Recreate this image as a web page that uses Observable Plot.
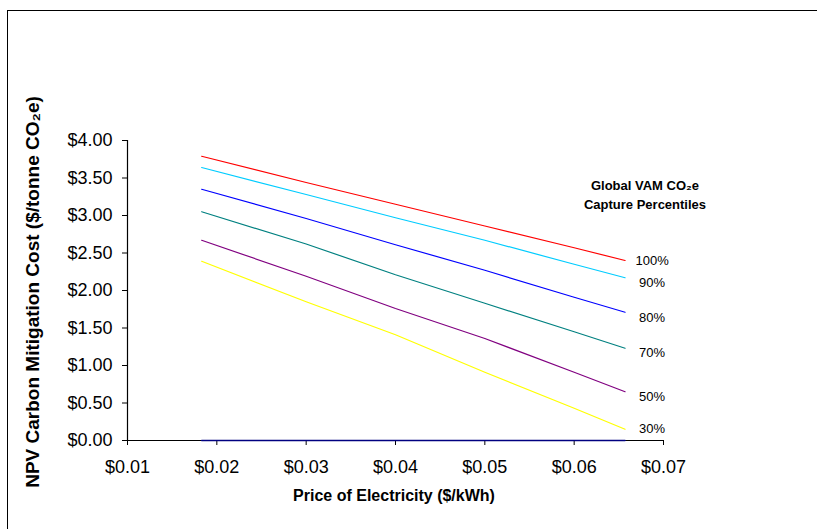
<!DOCTYPE html>
<html>
<head>
<meta charset="utf-8">
<script src="https://cdn.jsdelivr.net/npm/d3@7"></script>
<script src="https://cdn.jsdelivr.net/npm/@observablehq/plot@0.6"></script>
<style>
  html, body { margin: 0; padding: 0; background: #fff; }
  body { width: 817px; height: 529px; position: relative; overflow: hidden; font-family: "Liberation Sans", Arial, sans-serif; }
  #frame { position: absolute; left: 7px; top: 10px; width: 830px; height: 540px; border: 1.5px solid #000; box-sizing: border-box; pointer-events: none; }
  #chart { position: absolute; left: 0; top: 0; }
</style>
</head>
<body>
<div id="chart"></div>
<div id="frame"></div>
<script>
// Price of electricity ($/kWh)
const prices = [0.0183, 0.03, 0.04, 0.05, 0.06, 0.0657];
// NPV carbon mitigation cost ($/tonne CO2e) for each capture percentile
const percentiles = ["100%", "90%", "80%", "70%", "50%", "30%"];
const p100 = [3.79, 3.44, 3.15, 2.86, 2.57, 2.40];
const p90  = [3.64, 3.28, 2.97, 2.67, 2.35, 2.17];
const p80  = [3.35, 2.96, 2.61, 2.27, 1.91, 1.71];
const p70  = [3.05, 2.62, 2.21, 1.83, 1.45, 1.23];
const p50  = [2.67, 2.19, 1.76, 1.36, 0.91, 0.65];
const p30  = [2.39, 1.85, 1.41, 0.91, 0.43, 0.15];
const zeroSeries = [0, 0, 0, 0, 0, 0];
const seriesValues = [p100, p90, p80, p70, p50, p30];
const colors = ["#FF0000", "#00CCFF", "#0000FF", "#008080", "#800080", "#FFFF00"];
const xTicks = [0.01, 0.02, 0.03, 0.04, 0.05, 0.06, 0.07];
const yTicks = [0, 0.5, 1, 1.5, 2, 2.5, 3, 3.5, 4];
const labelDy = [0, 5, 6, 5, 5, 0];

const rows = [];
percentiles.forEach((p, i) => {
  prices.forEach((x, j) => rows.push({series: p, x, y: seriesValues[i][j]}));
});
const zeroRows = prices.map((x, j) => ({x, y: zeroSeries[j]}));
const last = prices.length - 1;

const font = "Liberation Sans, Arial, sans-serif";

const labelMarks = percentiles.map((p, i) =>
  Plot.text([{series: p, x: prices[last], y: seriesValues[i][last]}], {
    x: "x", y: "y", text: "series", dx: 27, dy: labelDy[i],
    fontSize: 13, fill: "#000", textAnchor: "middle"
  })
);

const chart = Plot.plot({
  width: 817,
  height: 529,
  marginLeft: 127,
  marginRight: 154,
  marginTop: 140,
  marginBottom: 89,
  style: {fontFamily: font, background: "transparent", color: "#000"},
  x: {domain: [0.01, 0.07]},
  y: {domain: [0, 4]},
  color: {domain: percentiles, range: colors},
  marks: [
    Plot.axisY({ticks: yTicks, tickFormat: d => "$" + d.toFixed(2), tickSize: 5, tickPadding: 10, fontSize: 18, label: null, stroke: "#000"}),
    Plot.axisX({ticks: xTicks, tickFormat: d => "$" + d.toFixed(2), tickSize: 5, tickPadding: 15, fontSize: 18, label: null, stroke: "#000"}),
    Plot.ruleX([0.01], {stroke: "#000", strokeWidth: 1.2}),
    Plot.ruleY([0], {stroke: "#000", strokeWidth: 1.2}),
    Plot.line(zeroRows, {x: "x", y: "y", stroke: "#000080", strokeWidth: 1.5}),
    Plot.line(rows, {x: "x", y: "y", z: "series", stroke: "series", strokeWidth: 1.2}),
    ...labelMarks
  ]
});

document.getElementById("chart").appendChild(chart);

// Axis titles and legend title
const svg = d3.select(chart);
svg.append("text")
  .attr("x", 394).attr("y", 501)
  .attr("text-anchor", "middle")
  .attr("font-family", font).attr("font-size", 16).attr("font-weight", "bold")
  .text("Price of Electricity ($/kWh)");
svg.append("text")
  .attr("transform", "translate(39,292) rotate(-90)")
  .attr("text-anchor", "middle")
  .attr("font-family", font).attr("font-size", 19).attr("font-weight", "bold")
  .text("NPV Carbon Mitigation Cost ($/tonne CO₂e)");
const lt = svg.append("text")
  .attr("text-anchor", "middle")
  .attr("font-family", font).attr("font-size", 13).attr("font-weight", "bold");
lt.append("tspan").attr("x", 645).attr("y", 190).text("Global VAM CO₂e");
lt.append("tspan").attr("x", 645).attr("y", 209).text("Capture Percentiles");
</script>
</body>
</html>
